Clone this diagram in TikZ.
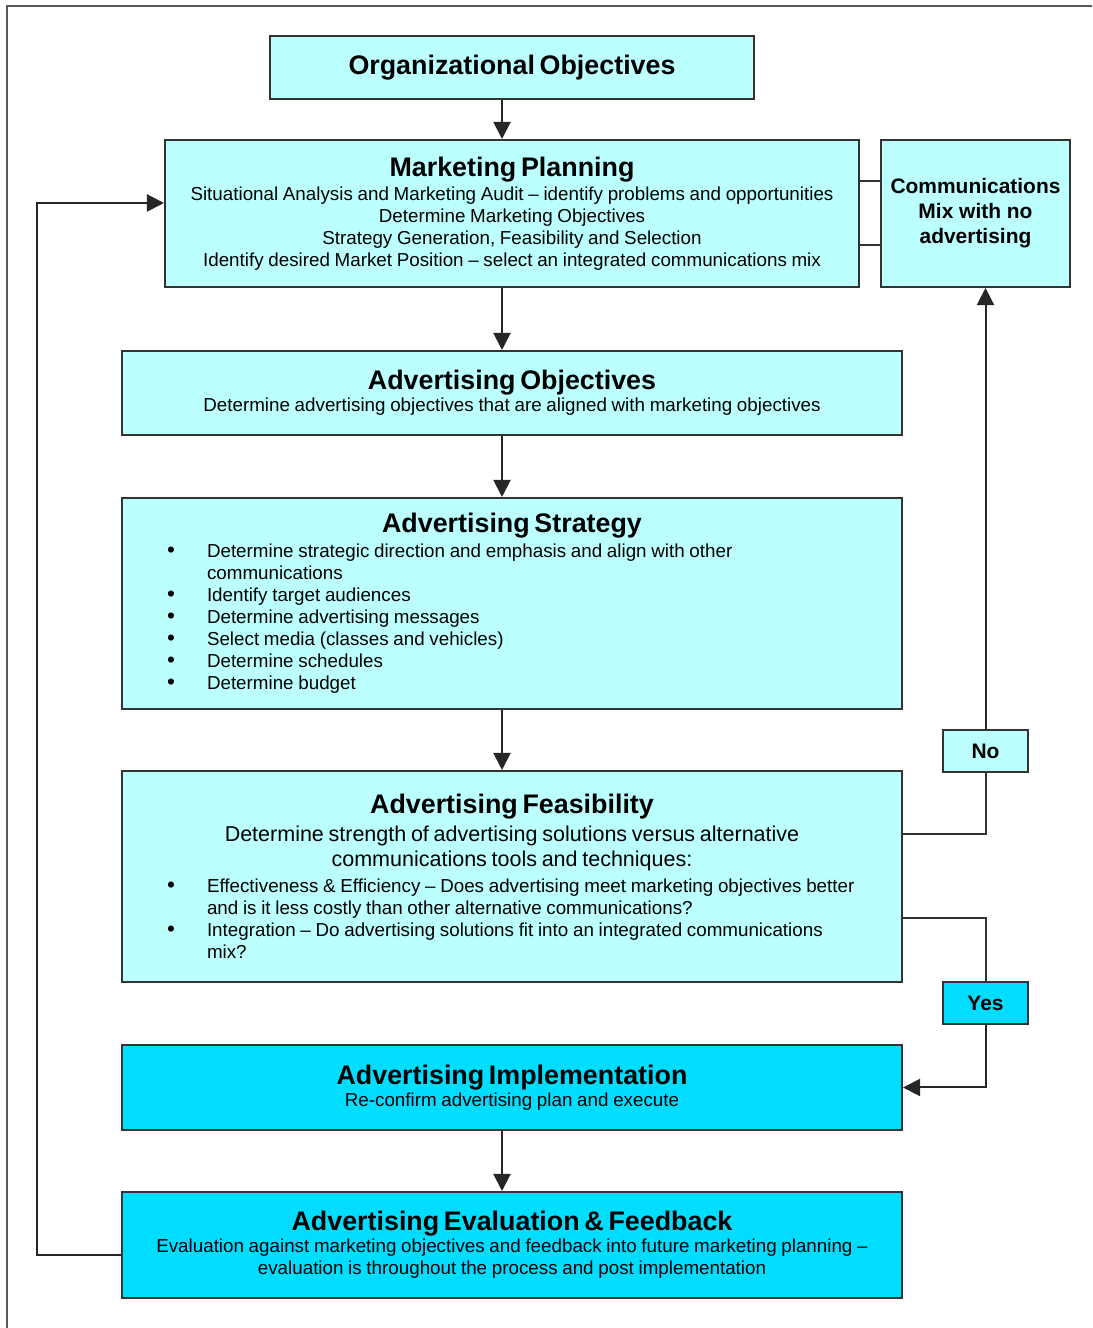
\documentclass[tikz,border=0pt]{standalone}
\usepackage{fontspec}
\setmainfont{Liberation Sans}
\usetikzlibrary{arrows.meta}
\definecolor{palecyan}{HTML}{BBFFFF}
\definecolor{deepcyan}{HTML}{00DDFF}
\newcommand{\boxtitle}{\fontsize{19.1}{22}\selectfont\bfseries}
\newcommand{\boxbody}{\fontsize{13.37}{15.65}\selectfont}
\newcommand{\boxlarge}{\fontsize{15.3}{17.8}\selectfont}
\newcommand{\boxbold}{\fontsize{14.9}{17.8}\selectfont\bfseries}
\newcommand{\bulletline}[1]{\par\leftskip=2.125cm\rightskip=0pt plus 1fil\noindent\llap{\makebox[1.0cm][l]{\fontsize{16}{15.65}\selectfont\textbullet}}#1\par}
\begin{document}
\begin{tikzpicture}[
    flow/.style={line width=0.05cm, black!85, -{Triangle[length=0.43cm,width=0.43cm]}},
    link/.style={line width=0.05cm, black!80},
    cyanbox/.style={draw=black!80, line width=0.05cm, fill=palecyan, inner sep=0pt},
    deepbox/.style={cyanbox, fill=deepcyan},
    tagbox/.style={cyanbox, align=center, minimum width=2.125cm, minimum height=1.05cm, font=\boxbold},
  ]
                    \useasboundingbox (0,0) rectangle (27.300000,33.200000);

                    % Drawing outer frame
                    \draw [line width=0.05cm, black!65] (0.175000,0.000000) -- (0.175000,33.050000) -- (27.300000,33.050000);%

                    % Drawing box org
                    \node (org) [cyanbox, text width=12.100000cm, minimum height=1.575000cm] at (12.800000,31.512500)
                      {{\centering\boxtitle Organizational Objectives\par}};%

                    % Drawing box plan
                    \node (plan) [cyanbox, text width=17.350000cm, minimum height=3.675000cm] at (12.800000,27.862500)
                      {{\centering\boxtitle Marketing Planning\par}\vspace{1.5pt}%
                       {\centering\boxbody Situational Analysis and Marketing Audit -- identify problems and opportunities\\
                        Determine Marketing Objectives\\
                        Strategy Generation, Feasibility and Selection\\
                        Identify desired Market Position -- select an integrated communications mix\par}};%

                    % Drawing box mix
                    \node (mix) [cyanbox, align=center, minimum width=4.725000cm, minimum height=3.675000cm, font=\boxbold] at (24.387500,27.862500)
                      {Communications\\Mix with no\\advertising};%

                    % Drawing box objectives
                    \node (objectives) [cyanbox, text width=19.500000cm, minimum height=2.100000cm] at (12.800000,23.375000)
                      {{\centering\boxtitle Advertising Objectives\par}%
                       {\centering\boxbody Determine advertising objectives that are aligned with marketing objectives\par}};%

                    % Drawing box strategy
                    \node (strategy) [cyanbox, text width=19.500000cm, minimum height=5.275000cm] at (12.800000,18.112500)
                      {{\centering\boxtitle Advertising Strategy\par}\vspace{2pt}%
                       {\boxbody
                        \bulletline{Determine strategic direction and emphasis and align with other\\communications}
                        \bulletline{Identify target audiences}
                        \bulletline{Determine advertising messages}
                        \bulletline{Select media (classes and vehicles)}
                        \bulletline{Determine schedules}
                        \bulletline{Determine budget}}};%

                    % Drawing box feasibility
                    \node (feasibility) [cyanbox, text width=19.500000cm, minimum height=5.275000cm] at (12.800000,11.287500)
                      {{\centering\boxtitle Advertising Feasibility\par}\vspace{2pt}%
                       {\centering\boxlarge Determine strength of advertising solutions versus alternative\\
                        communications tools and techniques:\par}\vspace{3pt}%
                       {\boxbody
                        \bulletline{Effectiveness \& Efficiency -- Does advertising meet marketing objectives better\\and is it less costly than other alternative communications?}
                        \bulletline{Integration -- Do advertising solutions fit into an integrated communications\\mix?}}};%

                    % Drawing tags no and yes
                    \node (no) [tagbox] at (24.637500,14.425000) {No};%
                    \node (yes) [tagbox, fill=deepcyan] at (24.637500,8.125000) {Yes};%

                    % Drawing box implementation
                    \node (implementation) [deepbox, text width=19.500000cm, minimum height=2.125000cm] at (12.800000,6.012500)
                      {{\centering\boxtitle Advertising Implementation\par}%
                       {\centering\boxbody Re-confirm advertising plan and execute\par}};%

                    % Drawing box evaluation
                    \node (evaluation) [deepbox, text width=19.500000cm, minimum height=2.650000cm] at (12.800000,2.075000)
                      {{\centering\boxtitle Advertising Evaluation \& Feedback\par}%
                       {\centering\boxbody Evaluation against marketing objectives and feedback into future marketing planning --\\
                        evaluation is throughout the process and post implementation\par}};%

                    % Drawing main flow
                    \draw [flow] ([xshift=-0.25cm]org.south) -- ([xshift=-0.25cm]plan.north);%
                    \draw [flow] ([xshift=-0.25cm]plan.south) -- ([xshift=-0.25cm]objectives.north);%
                    \draw [flow] ([xshift=-0.25cm]objectives.south) -- ([xshift=-0.25cm]strategy.north);%
                    \draw [flow] ([xshift=-0.25cm]strategy.south) -- ([xshift=-0.25cm]feasibility.north);%
                    \draw [flow] ([xshift=-0.25cm]implementation.south) -- ([xshift=-0.25cm]evaluation.north);%

                    % Drawing links plan mix
                    \draw [link] ([yshift=0.8125cm]plan.east) -- ([yshift=0.8125cm]mix.west);%
                    \draw [link] ([yshift=-0.7875cm]plan.east) -- ([yshift=-0.7875cm]mix.west);%

                    % Drawing branch no
                    \draw [link] ([yshift=1.0625cm]feasibility.east) -| (no.south);%
                    \draw [flow] (no.north) -- (no.north |- mix.south);%

                    % Drawing branch yes
                    \draw [link] ([yshift=-1.0375cm]feasibility.east) -| (yes.north);%
                    \draw [flow] (yes.south) |- (implementation.east);%

                    % Drawing feedback loop
                    \draw [flow] ([yshift=-0.25cm]evaluation.west) -- ++(-2.1,0) |- ([yshift=0.2625cm]plan.west);%
\end{tikzpicture}
\end{document}
